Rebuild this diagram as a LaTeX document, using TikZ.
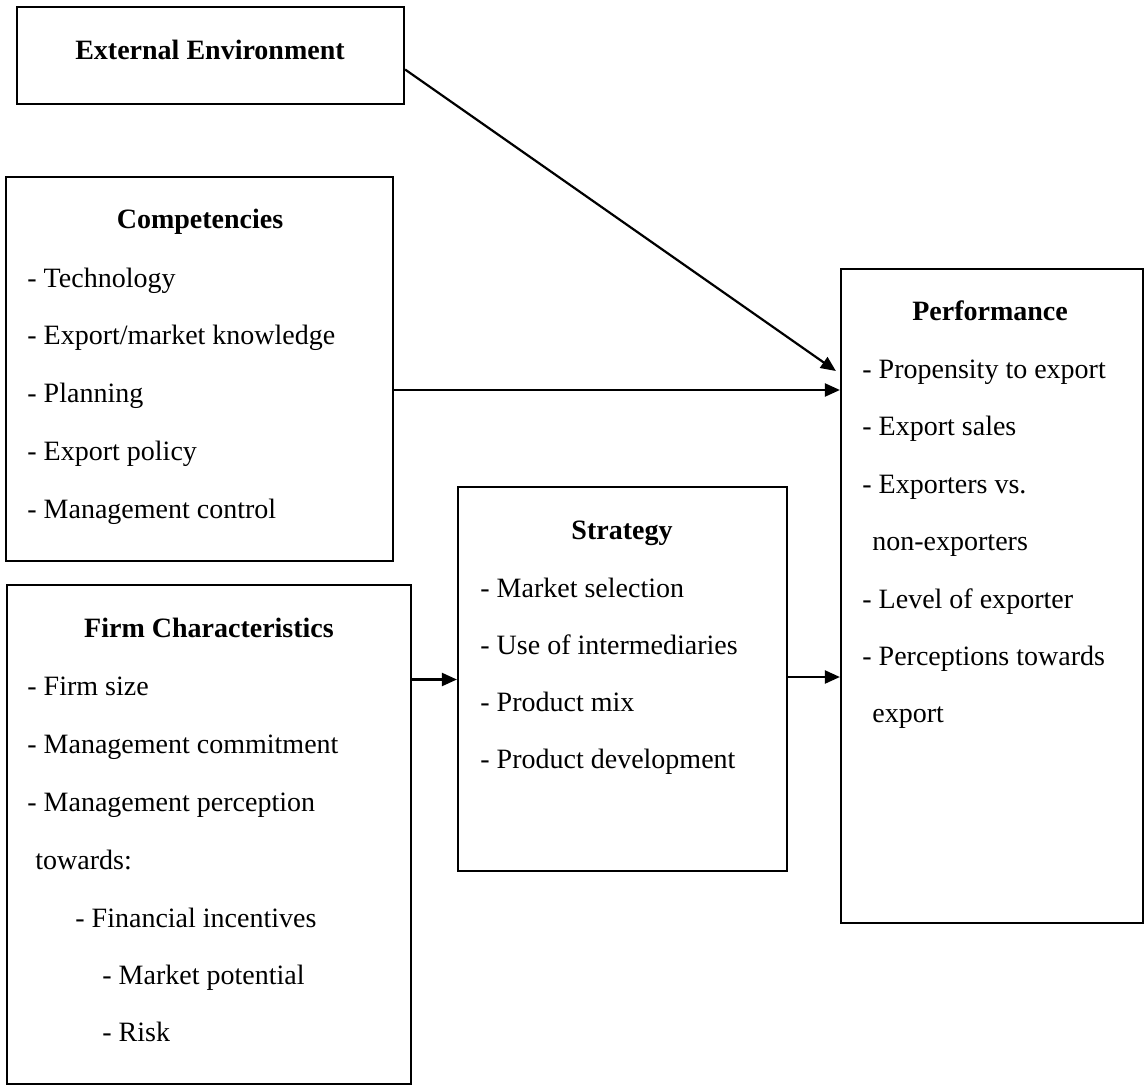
\documentclass[tikz,border=0pt]{standalone}
\usepackage{fontspec}
\setmainfont{Liberation Serif}
\usetikzlibrary{arrows.meta}
\begin{document}
\begin{tikzpicture}[x=0.5pt,y=-0.5pt,
  box/.style={draw, line width=1.1pt, rectangle, inner sep=0pt},
  head/.style={font=\fontsize{14pt}{17pt}\selectfont\bfseries, anchor=base, inner sep=0pt},
  item/.style={font=\fontsize{14pt}{17pt}\selectfont, anchor=base west, inner sep=0pt},
  arr/.style={line width=1.1pt, -{Triangle[length=7.5pt,width=6.5pt]}}]
\useasboundingbox (0,0) rectangle (1145,1086);

% boxes
\node[box, minimum width=193.5pt, minimum height=48.5pt] (ext) at (210.5,55.5) {};
\node[box, minimum width=193.5pt, minimum height=192pt] (comp) at (199.5,369) {};
\node[box, minimum width=202pt, minimum height=249.5pt] (firm) at (209,834.5) {};
\node[box, minimum width=164.5pt, minimum height=192pt] (strat) at (622.5,679) {};
\node[box, minimum width=151pt, minimum height=327pt] (perf) at (992,596) {};

% External Environment
\node[head] (extT) at (210,60) {External Environment};

% Competencies
\node[head] (compT) at (200,228) {Competencies};
\node[item] (comp1) at (27,287) {- Technology};
\node[item] (comp2) at (27,344) {- Export/market knowledge};
\node[item] (comp3) at (27,402) {- Planning};
\node[item] (comp4) at (27,460) {- Export policy};
\node[item] (comp5) at (27,518) {- Management control};

% Firm Characteristics
\node[head] (firmT) at (209,637) {Firm Characteristics};
\node[item] (firm1) at (27,695) {- Firm size};
\node[item] (firm2) at (27,753) {- Management commitment};
\node[item] (firm3) at (27,811) {- Management perception};
\node[item] (firm4) at (35,869) {towards:};
\node[item] (firm5) at (75,927) {- Financial incentives};
\node[item] (firm6) at (102,984) {- Market potential};
\node[item] (firm7) at (102,1041) {- Risk};

% Strategy
\node[head] (stratT) at (622,539) {Strategy};
\node[item] (strat1) at (480,597) {- Market selection};
\node[item] (strat2) at (480,654) {- Use of intermediaries};
\node[item] (strat3) at (480,711) {- Product mix};
\node[item] (strat4) at (480,768) {- Product development};

% Performance
\node[head] (perfT) at (990,320) {Performance};
\node[item] (perf1) at (862,378) {- Propensity to export};
\node[item] (perf2) at (862,435) {- Export sales};
\node[item] (perf3) at (862,493) {- Exporters vs.};
\node[item] (perf4) at (872,550) {non-exporters};
\node[item] (perf5) at (862,608) {- Level of exporter};
\node[item] (perf6) at (862,665) {- Perceptions towards};
\node[item] (perf7) at (872,722) {export};

% connectors
\draw[arr] ([yshift=-7pt]ext.east) -- ([xshift=-2pt,yshift=112.5pt]perf.west);
\draw[arr] ([yshift=-10.5pt]comp.east) coordinate (c1) -- (c1 -| perf.west);
\draw[arr] ([yshift=77.5pt]firm.east) coordinate (c2) -- (c2 -| strat.west);
\draw[arr] ([yshift=1pt]strat.east) coordinate (c3) -- (c3 -| perf.west);
\end{tikzpicture}
\end{document}
